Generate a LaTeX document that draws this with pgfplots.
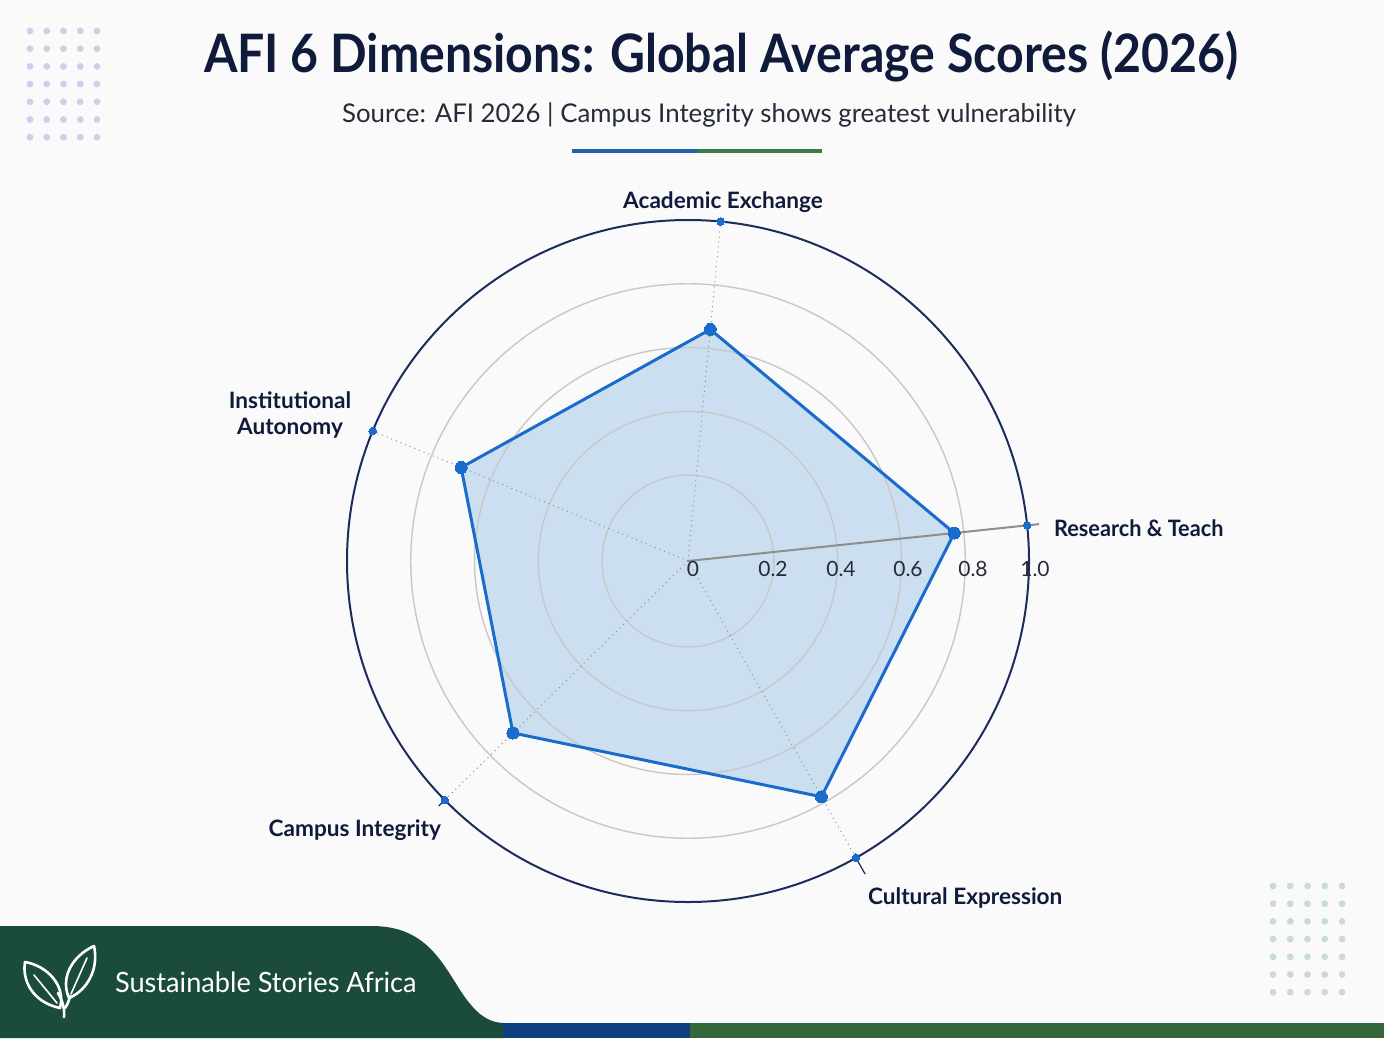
\documentclass[border=0pt]{standalone}
\usepackage{pgfplots}
\pgfplotsset{compat=1.18}
\usepackage{pgfplotstable}
\usepackage{fontspec}
\setmainfont{Lato}
\usepackage{graphicx}

\definecolor{bgc}{HTML}{FAFAFA}
\definecolor{navy}{HTML}{101B3B}
\definecolor{subc}{HTML}{252B38}
\definecolor{linec}{HTML}{1A6CCC}
\definecolor{fillc}{HTML}{A6C9EA}
\definecolor{outerc}{HTML}{1C2C5C}
\definecolor{gridc}{HTML}{C8C8C8}
\definecolor{spokec}{HTML}{8E8E8E}
\definecolor{ublue}{HTML}{1F5FAD}
\definecolor{ugreen}{HTML}{3A7D44}
\definecolor{bannerc}{HTML}{1B4B3B}
\definecolor{stripblue}{HTML}{0F3F7F}
\definecolor{stripgreen}{HTML}{35693C}
\definecolor{dot1}{HTML}{C6D3E8}
\definecolor{dot2}{HTML}{C8DCD4}

% angle (deg) and score of each dimension
\pgfplotstableread{
angle v
84.5  0.66
6     0.77
-60.5 0.78
224.5 0.70
157.6 0.70
}\radar

\begin{document}
\begin{tikzpicture}[x=0.5pt,y=-0.5pt]
\fill[bgc] (0,0) rectangle (1384,1038);
\path[use as bounding box] (0,0) rectangle (1384,1038);

% decorative dot grids
\foreach \i in {0,...,4}{\foreach \j in {0,...,6}{
  \fill[dot1] ({30+16.75*\i},{31+17.7*\j}) circle[radius=3.4];
  \fill[dot2] ({1273+17.25*\i},{886+17.7*\j}) circle[radius=3.4];
}}

% title and subtitle
\node[text=navy] at (721,56) {\scalebox{0.91}[1]{\fontsize{26.5}{31}\selectfont\bfseries AFI 6 Dimensions: Global Average Scores (2026)}};
\node[text=subc] at (709,115) {\fontsize{12.9}{15}\selectfont Source: AFI 2026 | Campus Integrity shows greatest vulnerability};
\draw[ublue, line width=2pt] (572,151) -- (697,151);
\draw[ugreen, line width=2pt] (697,151) -- (822,151);

\coordinate (C) at (688,561);
\begin{axis}[at={(C)}, anchor=center, x=170.5pt, y=170.5pt,
  xmin=-1.2, xmax=1.2, ymin=-1.2, ymax=1.2, hide axis, clip=false]
  % score polygon fill (semi-transparent)
  \addplot[draw=none, fill=fillc, fill opacity=0.55, forget plot]
    table[x expr={(\thisrow{v}+0.07)/1.07*cos(\thisrow{angle})},
          y expr={(\thisrow{v}+0.07)/1.07*sin(\thisrow{angle})}] {\radar} -- cycle;
  % grid rings (r = (v+0.07)/1.07)
  \draw[gridc, line width=0.7pt] (axis cs:0,0) circle[radius=0.252];
  \draw[gridc, line width=0.7pt] (axis cs:0,0) circle[radius=0.439];
  \draw[gridc, line width=0.7pt] (axis cs:0,0) circle[radius=0.626];
  \draw[gridc, line width=0.7pt] (axis cs:0,0) circle[radius=0.813];
  % spokes
  \draw[spokec, line width=0.5pt, dotted] (axis cs:0,0) -- (axis cs:{cos(84.5)},{sin(84.5)});
  \draw[spokec, line width=0.5pt, dotted] (axis cs:0,0) -- (axis cs:{cos(-60.5)},{sin(-60.5)});
  \draw[spokec, line width=0.5pt, dotted] (axis cs:0,0) -- (axis cs:{cos(224.5)},{sin(224.5)});
  \draw[spokec, line width=0.5pt, dotted] (axis cs:0,0) -- (axis cs:{cos(157.6)},{sin(157.6)});
  \draw[outerc, line width=0.6pt] (axis cs:{cos(-60.5)},{sin(-60.5)}) -- (axis cs:{1.055*cos(-60.5)},{1.055*sin(-60.5)});
  \draw[outerc, line width=0.6pt] (axis cs:{cos(224.5)},{sin(224.5)}) -- (axis cs:{1.025*cos(224.5)},{1.025*sin(224.5)});
  % radial axis line
  \draw[spokec, line width=1pt] (axis cs:0,0) -- (axis cs:{1.035*cos(6)},{1.035*sin(6)});
  % score polygon outline and points
  \addplot[draw=linec, line width=1.5pt, line join=round,
    mark=*, mark size=3pt, mark options={fill=linec, draw=linec, line width=0pt}]
    table[x expr={(\thisrow{v}+0.07)/1.07*cos(\thisrow{angle})},
          y expr={(\thisrow{v}+0.07)/1.07*sin(\thisrow{angle})}] {\radar} -- cycle;
  % outer ring
  \draw[outerc, line width=1pt] (axis cs:0,0) circle[radius=1];
  % axis end markers
  \addplot[only marks, mark=*, mark size=1.9pt, mark options={fill=linec, draw=linec, line width=0pt}]
    table[x expr={cos(\thisrow{angle})}, y expr={sin(\thisrow{angle})}] {\radar};
\end{axis}

% radial tick labels
\begin{scope}[every node/.style={text=subc, font=\fontsize{10.5}{12}\selectfont}]
\node at (693,569) {0};
\node at (773,569) {0.2};
\node at (841,569) {0.4};
\node at (908,569) {0.6};
\node at (973,569) {0.8};
\node at (1035,569) {1.0};
\end{scope}

% category labels
\begin{scope}[every node/.style={text=navy, font=\fontsize{11.3}{13}\selectfont\bfseries}]
\node at (723,202) {Academic Exchange};
\node[anchor=west] at (1047,528) {\scalebox{0.96}[1]{Research \& Teach}};
\node[anchor=west] at (861,898) {Cultural Expression};
\node[anchor=east] at (448,830) {Campus Integrity};
\node[align=center, font=\fontsize{11.3}{13}\selectfont\bfseries] at (290,415) {Institutional\\Autonomy};
\end{scope}

% footer banner
\fill[bannerc] (0,926) -- (372,926) .. controls (420,926) and (438,955) .. (455,982)
  .. controls (472,1010) and (485,1023) .. (505,1023) -- (505,1038) -- (0,1038) -- cycle;
\fill[stripblue] (503,1023) rectangle (690,1038);
\fill[stripgreen] (690,1023) rectangle (1384,1038);
% leaf logo
\begin{scope}[white, line width=1.3pt, line join=round, line cap=round]
\draw (60,1008) .. controls (32,1002) and (22,980) .. (25,962) .. controls (48,966) and (66,986) .. (60,1008) -- cycle;
\draw (69,998) .. controls (60,978) and (72,956) .. (94,946) .. controls (99,968) and (88,990) .. (69,998) -- cycle;
\draw (64,1017) .. controls (65,1008) and (62,1000) .. (58,993);
\draw (65,1008) .. controls (68,1004) and (69,1000) .. (70,996);
\draw[line width=0.8pt] (57,1003) -- (34,975);
\draw[line width=0.8pt] (71,994) -- (87,958);
\end{scope}
\node[anchor=west, text=white] at (108,982) {\scalebox{0.97}[1]{\fontsize{14}{17}\selectfont Sustainable Stories Africa}};
\end{tikzpicture}
\end{document}
